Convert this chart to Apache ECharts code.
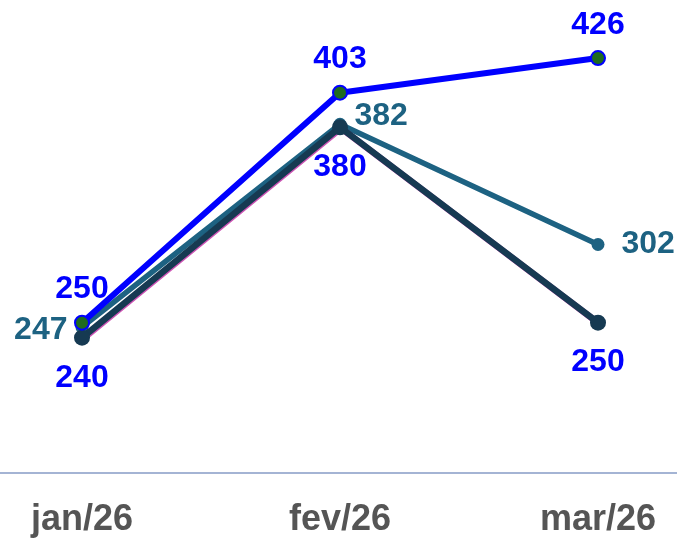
<!DOCTYPE html>
<html style="height: 100%">
<head>
   <meta charset="utf-8">
</head>
<style>
    body, html, #chart {
        margin: 0;
        width: 100%;
        height: 100%;
        background: #fff;
    }
</style>
<body>
   <div id="chart"></div>
   <script src="https://cdn.jsdelivr.net/npm/echarts@6/dist/echarts.min.js"></script>
   <script type="text/javascript">
    // dados
    var meses = ['jan/26', 'fev/26', 'mar/26'];
    var serieAzul = [250, 403, 426];
    var serieTeal = [247, 382, 302];
    var serieEscura = [240, 380, 250];

    var fonte = '"Liberation Sans", Arial, sans-serif';
    var chart = echarts.init(document.getElementById('chart'));

    // posicao do rotulo da serie teal por mes
    var posTeal = ['left', 'right', 'right'];
    var tealData = serieTeal.map(function (v, i) {
        var lab = { position: posTeal[i] };
        if (i === 0) lab.offset = [0, 3];
        if (i === 1) lab.offset = [0, -8];
        if (i === 2) lab.distance = 17;
        return { value: v, label: lab };
    });

    var option = {
        animation: false,
        grid: [
            { left: 82, right: 79, top: 22, bottom: 67 },
            { left: 0, right: 0, top: 22, bottom: 67 }
        ],
        xAxis: [
            {
                type: 'category',
                data: meses,
                boundaryGap: false,
                axisLine: { show: false },
                axisTick: { show: false },
                axisLabel: {
                    color: '#555555', fontSize: 36, fontWeight: 'bold',
                    fontFamily: fonte, margin: 29
                }
            },
            {
                type: 'category', gridIndex: 1, data: meses,
                axisLine: { lineStyle: { color: '#a4b4d4', width: 2 } },
                axisTick: { show: false },
                axisLabel: { show: false }
            }
        ],
        yAxis: [
            { type: 'value', min: 150, max: 450, show: false, splitLine: { show: false } },
            { type: 'value', gridIndex: 1, min: 150, max: 450, show: false, splitLine: { show: false } }
        ],
        series: [
            {
                name: 'teal', type: 'line', data: tealData, z: 2,
                symbol: 'circle', symbolSize: 13,
                lineStyle: { color: '#1d6282', width: 5.5 },
                itemStyle: { color: '#1d6282' },
                label: {
                    show: true, color: '#1d6282', fontSize: 32, fontWeight: 'bold',
                    fontFamily: fonte, distance: 8
                }
            },
            {
                name: 'escura', type: 'line', data: serieEscura, z: 3,
                symbol: 'circle', symbolSize: 16,
                lineStyle: {
                    color: '#163a52', width: 6.5,
                    shadowColor: 'rgba(190,40,160,0.8)', shadowOffsetX: 1, shadowOffsetY: 1
                },
                itemStyle: { color: '#163a52' },
                label: {
                    show: true, color: '#0000ff', fontSize: 32, fontWeight: 'bold',
                    fontFamily: fonte, position: 'bottom', distance: 16
                }
            },
            {
                name: 'azul', type: 'line', data: serieAzul, z: 4,
                symbol: 'circle', symbolSize: 14,
                lineStyle: { color: '#0000ff', width: 6 },
                itemStyle: { color: '#1f6b1f', borderColor: '#0000ff', borderWidth: 2 },
                label: {
                    show: true, color: '#0000ff', fontSize: 32, fontWeight: 'bold',
                    fontFamily: fonte, position: 'top', distance: 9
                }
            }
        ]
    };
    chart.setOption(option);
   </script>
</body>
</html>
